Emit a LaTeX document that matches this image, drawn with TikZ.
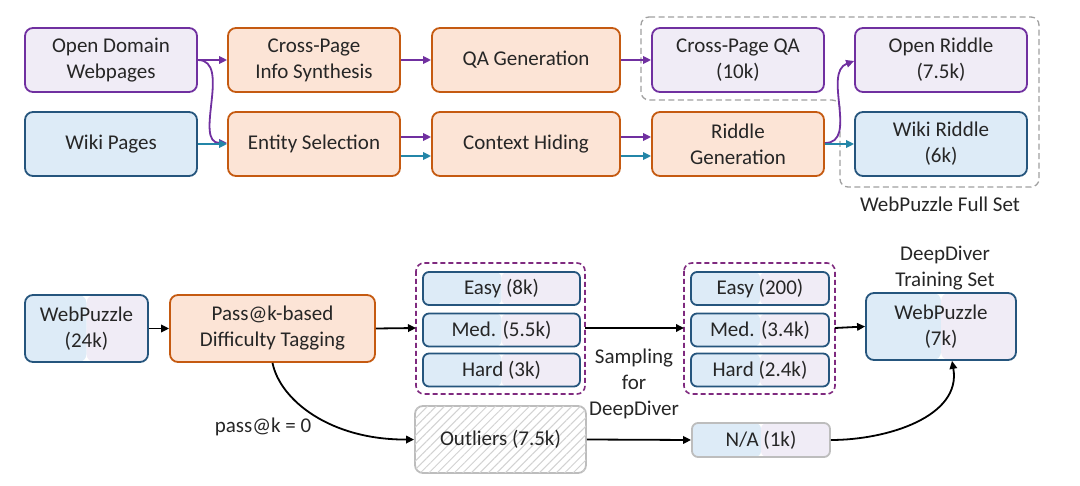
\documentclass[tikz,border=0pt]{standalone}
\usepackage{fontspec}
\setmainfont{Carlito}
\usetikzlibrary{arrows.meta,patterns.meta}
\definecolor{purp}{HTML}{7030A0}
\definecolor{lav}{HTML}{F0ECF6}
\definecolor{bblue}{HTML}{25557D}
\definecolor{lblue}{HTML}{DDEBF7}
\definecolor{oline}{HTML}{C55A11}
\definecolor{ofill}{HTML}{FCE4D6}
\definecolor{teal2}{HTML}{2386A8}
\definecolor{grp}{HTML}{7F2A7F}
\definecolor{gline}{HTML}{BDBDBD}
\definecolor{txt}{HTML}{262626}
\definecolor{dgray}{HTML}{A0A0A0}
\begin{document}
\begin{tikzpicture}[x=1pt,y=-1pt,
  every node/.style={font=\fontsize{21}{26}\selectfont, text=txt, align=center, inner sep=0pt},
  box/.style={draw, line width=1.8pt, rounded corners=8pt},
  pbox/.style={box, draw=purp, fill=lav},
  bbox/.style={box, draw=bblue, fill=lblue},
  obox/.style={box, draw=oline, fill=ofill},
  splitfill/.style={path picture={
     \fill[lblue] (path picture bounding box.south west) rectangle (path picture bounding box.north);
     \fill[lav] (path picture bounding box.north) rectangle (path picture bounding box.south east);}},
  sbox/.style={box, draw=bblue, splitfill},
  small/.style={box, rounded corners=6pt, draw=bblue, splitfill, minimum height=33pt},
  tip/.style={-{Triangle[length=8pt,width=7.5pt]}},
  parr/.style={tip, draw=purp, line width=1.8pt},
  tarr/.style={tip, draw=teal2, line width=1.8pt},
  karr/.style={tip, draw=black, line width=1.8pt},
  grpbox/.style={draw=grp, line width=1.6pt, rounded corners=8pt, dash pattern=on 5pt off 3pt},
]
\useasboundingbox (0,0) rectangle (1080,486);
% top row
\node[pbox, minimum width=172pt, minimum height=64pt] (odw) at (111,60) {Open Domain\\Webpages};
\node[bbox, minimum width=172pt, minimum height=64pt] (wiki) at (111,144) {Wiki Pages};
\node[obox, minimum width=172pt, minimum height=64pt] (csyn) at (314,60) {Cross-Page\\Info Synthesis};
\node[obox, minimum width=172pt, minimum height=64pt] (ent) at (314,144) {Entity Selection};
\node[obox, minimum width=188pt, minimum height=64pt] (qag) at (526,60) {QA Generation};
\node[obox, minimum width=188pt, minimum height=64pt] (ctx) at (526,144) {Context Hiding};
\node[pbox, minimum width=172pt, minimum height=64pt] (cqa) at (738,60) {Cross-Page QA\\(10k)};
\node[obox, minimum width=172pt, minimum height=64pt] (rgen) at (738,144) {Riddle\\Generation};
\node[pbox, minimum width=172pt, minimum height=64pt] (ord) at (941,60) {Open Riddle\\(7.5k)};
\node[bbox, minimum width=172pt, minimum height=64pt] (wrd) at (941,144) {Wiki Riddle\\(6k)};
\draw[dgray, line width=1.3pt, dash pattern=on 6pt off 3.5pt, rounded corners=8pt]
  (641,17) -- (1039,17) -- (1039,187) -- (840,187) -- (840,100) -- (641,100) -- cycle;
\node (fullset) at (940,204) {WebPuzzle Full Set};
\draw[parr] (odw.east) -- (csyn.west);
\draw[parr] (odw.east) to[out=0,in=180] ([yshift=1pt]ent.west);
\draw[tarr] (wiki.east) -- (ent.west);
\draw[parr] (csyn.east) -- (qag.west);
\draw[parr] (qag.east) -- (cqa.west);
\draw[parr] ([yshift=7pt]ent.east) -- ([yshift=7pt]ctx.west);
\draw[tarr] ([yshift=-12pt]ent.east) -- ([yshift=-12pt]ctx.west);
\draw[parr] ([yshift=7pt]ctx.east) -- ([yshift=7pt]rgen.west);
\draw[tarr] ([yshift=-12pt]ctx.east) -- ([yshift=-12pt]rgen.west);
\draw[parr] ([yshift=1pt]rgen.east) to[out=0,in=200] ([yshift=-1pt]ord.west);
\draw[tarr] (rgen.east) -- (wrd.west);
% bottom
\node[sbox, minimum width=123pt, minimum height=67pt] (wp24) at (86.5,328.5) {WebPuzzle\\(24k)};
\node[obox, minimum width=205pt, minimum height=67pt] (pass) at (272.5,328.5) {Pass@k-based\\Difficulty Tagging};
\draw[grpbox] (416,263) rectangle (585,394);
\coordinate (g1w) at (416,328);
\coordinate (g1e) at (585,328);
\node[small, minimum width=157pt] (e1) at (501.5,288.5) {Easy (8k)};
\node[small, minimum width=157pt] (m1) at (501.5,330) {Med. (5.5k)};
\node[small, minimum width=157pt] (h1) at (501.5,370) {Hard (3k)};
\draw[grpbox] (684,263) rectangle (835,394);
\coordinate (g2w) at (684,328);
\coordinate (g2e) at (835,328);
\node[small, minimum width=138pt] (e2) at (760,288.5) {Easy (200)};
\node[small, minimum width=138pt] (m2) at (760,330) {Med. (3.4k)};
\node[small, minimum width=138pt] (h2) at (760,370) {Hard (2.4k)};
\node (samp) at (634,384) {Sampling\\for\\DeepDiver};
\node[sbox, minimum width=150pt, minimum height=67pt] (wp7) at (941,326.5) {WebPuzzle\\(7k)};
\node (train) at (945,268) {DeepDiver\\Training Set};
\node[box, draw=gline, fill=white, minimum width=171pt, minimum height=67pt,
  postaction={pattern={Lines[angle=45,distance=6pt,line width=1pt]}, pattern color=gray!35}] (out) at (500.5,439.5) {};
\node at (out.center) {Outliers (7.5k)};
\node[box, rounded corners=6pt, draw=gline, splitfill, minimum width=138pt, minimum height=34pt] (na) at (761,440) {N/A (1k)};
\draw[karr] (wp24.east) -- (pass.west);
\draw[karr] (pass.east) -- (g1w);
\draw[karr] (g1e) -- (g2w);
\draw[karr] (g2e) -- (wp7.west);
\draw[karr] (pass.south) .. controls (280,400) and (330,440) .. (out.west);
\node (p0) at (263,427) {pass@k = 0};
\draw[karr] (out.east) -- (na.west);
\draw[karr] (na.east) to[out=0,in=-80] ([xshift=11pt]wp7.south);
\end{tikzpicture}
\end{document}
